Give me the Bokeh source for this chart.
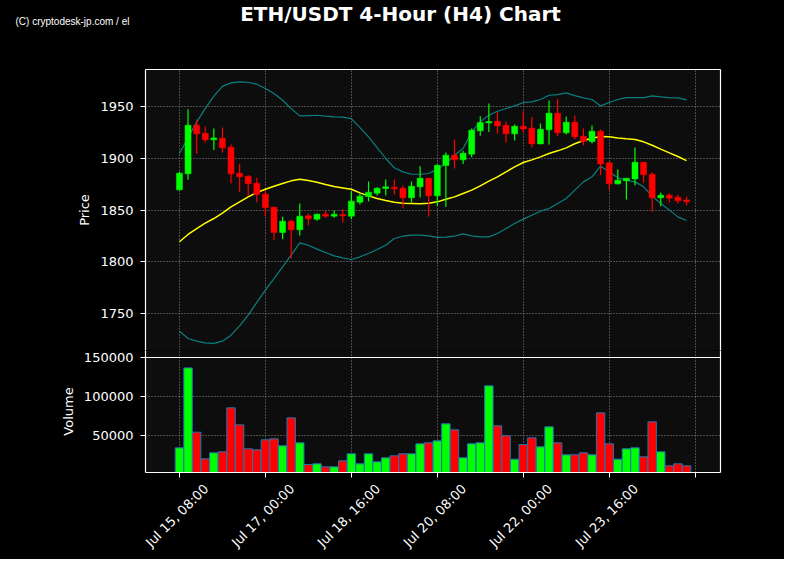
import math
from bokeh.plotting import figure
from bokeh.layouts import column
from bokeh.models import (ColumnDataSource, FixedTicker, LinearAxis, Range1d, Span,
                          NumeralTickFormatter)
from bokeh.core.properties import value
from bokeh.embed import file_html
from bokeh.resources import INLINE

# ---------------- data ----------------
opens = [1869.5, 1885.0, 1932.0, 1924.2, 1917.8, 1919.4, 1910.7, 1885.6, 1882.7, 1875.9,
         1865.3, 1852.8, 1828.3, 1839.2, 1830.9, 1844.4, 1841.2, 1846.0, 1844.1, 1845.7,
         1844.1, 1857.6, 1863.1, 1866.3, 1870.8, 1872.1, 1871.1, 1861.8, 1872.4, 1880.8,
         1863.7, 1893.0, 1903.0, 1898.5, 1904.0, 1926.5, 1934.2, 1935.8, 1932.0, 1923.6,
         1931.0, 1929.1, 1913.9, 1927.5, 1943.6, 1924.6, 1934.9, 1921.3, 1916.2, 1926.2,
         1895.6, 1875.3, 1878.2, 1880.1, 1896.2, 1884.6, 1861.8, 1864.3, 1862.4, 1859.8]
closes = [1885.6, 1932.0, 1923.6, 1917.8, 1919.7, 1910.1, 1885.0, 1882.1, 1875.3, 1865.0,
          1852.1, 1828.3, 1839.2, 1830.9, 1844.1, 1841.5, 1846.0, 1844.1, 1846.0, 1844.4,
          1858.6, 1863.4, 1867.2, 1871.1, 1872.4, 1870.5, 1861.8, 1873.0, 1880.8, 1863.7,
          1893.3, 1903.0, 1898.5, 1904.9, 1927.1, 1934.5, 1935.5, 1931.3, 1923.6, 1931.0,
          1928.4, 1913.9, 1928.1, 1943.6, 1924.6, 1934.9, 1920.7, 1916.2, 1926.2, 1894.6,
          1875.3, 1878.8, 1880.8, 1896.2, 1884.0, 1861.8, 1864.3, 1861.5, 1858.9, 1857.9]
highs = [1886.9, 1947.4, 1937.4, 1930.7, 1928.7, 1929.7, 1913.3, 1894.6, 1883.7, 1881.1,
         1868.9, 1853.4, 1843.4, 1840.8, 1856.3, 1846.6, 1846.6, 1849.2, 1849.5, 1850.8,
         1868.2, 1866.0, 1877.5, 1872.1, 1879.5, 1879.5, 1873.7, 1877.5, 1892.4, 1880.8,
         1894.0, 1905.6, 1918.1, 1907.2, 1928.7, 1940.7, 1952.9, 1944.8, 1935.2, 1932.6,
         1945.5, 1940.0, 1933.6, 1955.8, 1957.1, 1940.3, 1941.3, 1928.7, 1931.6, 1927.8,
         1896.5, 1889.1, 1880.8, 1910.4, 1896.2, 1886.6, 1866.9, 1866.3, 1865.0, 1863.1]
lows = [1868.9, 1879.2, 1904.3, 1915.2, 1908.1, 1905.6, 1875.6, 1867.6, 1863.7, 1857.6,
        1843.7, 1820.9, 1821.8, 1803.2, 1825.4, 1835.0, 1839.6, 1842.5, 1842.5, 1838.0,
        1841.2, 1855.3, 1858.2, 1864.0, 1864.0, 1865.0, 1851.5, 1857.3, 1862.0, 1843.7,
        1854.0, 1853.1, 1890.1, 1894.6, 1901.0, 1921.7, 1925.5, 1923.9, 1915.2, 1917.2,
        1924.9, 1910.4, 1913.6, 1913.3, 1921.3, 1923.0, 1918.4, 1912.6, 1914.3, 1883.7,
        1869.5, 1874.7, 1860.2, 1873.7, 1876.6, 1848.3, 1853.7, 1857.3, 1856.3, 1854.4]
volumes = [34615, 137190, 54700, 20510, 28200, 29500, 85900, 64100, 33330, 32050,
           44870, 46150, 37180, 73080, 41020, 13240, 14100, 10250, 10250, 17950,
           26920, 14100, 26920, 16660, 21800, 24360, 26920, 26920, 39740, 41020,
           43590, 65390, 57700, 21800, 39740, 41020, 114110, 62820, 50000, 20080,
           38890, 47440, 35900, 61540, 41020, 25640, 25640, 28200, 25640, 79490,
           39740, 20080, 33330, 34610, 23070, 67950, 29490, 11530, 14100, 11530]
sma = [1819.3, 1826.4, 1832.1, 1837.3, 1841.8, 1847.0, 1853.1, 1857.9, 1862.7, 1866.9,
       1870.1, 1873.0, 1875.6, 1878.2, 1879.8, 1878.5, 1876.9, 1874.7, 1872.7, 1871.4,
       1870.1, 1866.6, 1863.7, 1861.1, 1859.2, 1857.6, 1856.6, 1856.3, 1856.0, 1856.6,
       1857.9, 1860.5, 1862.7, 1866.0, 1869.2, 1873.4, 1877.9, 1882.1, 1886.9, 1891.7,
       1895.9, 1898.5, 1901.4, 1904.6, 1907.2, 1910.1, 1914.0, 1917.2, 1919.4, 1921.0,
       1920.7, 1919.7, 1918.8, 1918.1, 1915.9, 1912.6, 1908.8, 1905.2, 1901.7, 1897.8]
upper = [1904.6, 1920.0, 1935.0, 1948.0, 1960.0, 1969.5, 1972.9, 1973.8, 1973.5, 1971.6,
         1967.4, 1962.6, 1956.1, 1948.0, 1941.0, 1941.3, 1941.6, 1940.7, 1940.0, 1939.7,
         1938.4, 1929.7, 1920.7, 1910.4, 1899.8, 1890.8, 1886.9, 1884.6, 1884.6, 1885.3,
         1889.5, 1894.9, 1903.0, 1909.4, 1925.5, 1935.2, 1941.6, 1945.5, 1948.1, 1950.6,
         1953.9, 1954.5, 1956.8, 1960.9, 1961.6, 1963.2, 1960.6, 1958.4, 1956.8, 1950.6,
         1953.9, 1956.8, 1958.7, 1958.7, 1958.7, 1960.3, 1959.3, 1958.7, 1958.4, 1956.4]
lower = [1733.0, 1725.9, 1723.3, 1721.7, 1721.1, 1723.3, 1729.1, 1738.1, 1748.4, 1760.7,
         1772.6, 1783.8, 1795.1, 1806.5, 1818.3, 1816.0, 1812.2, 1809.0, 1805.7, 1803.8,
         1802.2, 1804.8, 1808.0, 1811.9, 1816.0, 1822.5, 1824.7, 1825.7, 1825.7, 1825.1,
         1823.5, 1823.8, 1824.7, 1827.0, 1825.1, 1824.1, 1824.1, 1827.3, 1832.1, 1837.0,
         1841.2, 1845.0, 1848.9, 1851.5, 1856.3, 1861.1, 1869.2, 1877.2, 1882.1, 1892.4,
         1886.9, 1881.1, 1878.8, 1877.2, 1872.4, 1863.4, 1856.3, 1849.9, 1843.4, 1839.9]
tick_index = [0, 10, 20, 30, 40, 50, 60]
tick_labels = ["Jul 15, 08:00", "Jul 17, 00:00", "Jul 18, 16:00", "Jul 20, 08:00",
               "Jul 22, 00:00", "Jul 23, 16:00", ""]
price_ticks = [1750, 1800, 1850, 1900, 1950]
volume_ticks = [50000, 100000, 150000]

TITLE = "ETH/USDT 4-Hour (H4) Chart"
WATERMARK = "(C) cryptodesk-jp.com / el"

# ---------------- derived ----------------
n = len(opens)
xs = list(range(n))
UP, DOWN = "#00ff00", "#ff0000"
colors = [UP if c >= o else DOWN for o, c in zip(opens, closes)]
src = ColumnDataSource(dict(
    x=xs, open=opens, close=closes, high=highs, low=lows,
    top=[max(o, c) for o, c in zip(opens, closes)],
    bottom=[min(o, c) for o, c in zip(opens, closes)],
    color=colors, volume=volumes, sma=sma, upper=upper, lower=lower))

FONT = "DejaVu Sans"
GRID_COLOR = "#8a8a8a"
BG = "#0d0d0d"
W = 784
HEADER_H = 40
SPLIT = 350            # canvas boundary between price and volume figures
VOL_TOP = 150500       # volume value at the panel divider
x_range = Range1d(-3.95, 62.95)


def style_axis(ax):
    ax.axis_line_color = "white"
    ax.axis_line_width = 1.2
    ax.major_tick_line_color = "white"
    ax.major_tick_out = 5
    ax.major_tick_in = 0
    ax.minor_tick_line_color = None
    ax.major_label_standoff = 7
    ax.major_label_text_color = "white"
    ax.major_label_text_font = FONT
    ax.major_label_text_font_size = "13px"
    ax.axis_label_standoff = 5
    ax.axis_label_text_color = "white"
    ax.axis_label_text_font = FONT
    ax.axis_label_text_font_style = "normal"
    ax.axis_label_text_font_size = "13px"


def border_axis():
    ax = LinearAxis(ticker=FixedTicker(ticks=[]))
    style_axis(ax)
    ax.major_label_standoff = 0
    ax.major_tick_out = 0
    return ax


def style_grid(g):
    g.grid_line_color = GRID_COLOR
    g.grid_line_dash = "1 2"
    g.grid_line_width = 1


# ---------------- header (title + watermark) ----------------
h = figure(width=W, height=HEADER_H, x_range=Range1d(0, W), y_range=Range1d(HEADER_H, 0),
           output_backend="svg", toolbar_location=None,
           x_axis_location=None, y_axis_location=None,
           min_border=0, min_border_left=0, min_border_right=0,
           min_border_top=0, min_border_bottom=0,
           background_fill_color="black", border_fill_color="black",
           outline_line_color=None)
h.grid.visible = False
h.text(x=[400], y=[13.6], text=[TITLE], text_align="center", text_baseline="alphabetic",
       text_color="white", text_font=value(FONT), text_font_style="bold",
       text_font_size="20px")
h.text(x=[15], y=[21], text=[WATERMARK], text_align="left", text_baseline="alphabetic",
       text_color="white", text_font=value("Liberation Sans"), text_font_size="10px")

# ---------------- price panel ----------------
p = figure(width=W, height=SPLIT - HEADER_H, x_range=x_range,
           y_range=Range1d(1714.26, 1985.8),
           output_backend="svg", toolbar_location=None, x_axis_location=None,
           min_border_left=145, min_border_right=64, min_border_top=69 - HEADER_H,
           min_border_bottom=0,
           background_fill_color=BG, border_fill_color="black", outline_line_color=None)
p.yaxis.ticker = FixedTicker(ticks=price_ticks)
p.yaxis.axis_label = "Price"
style_axis(p.yaxis[0])
style_grid(p.ygrid[0])
for g in p.xgrid:
    g.ticker = FixedTicker(ticks=tick_index)
    style_grid(g)
p.add_layout(border_axis(), "above")
p.add_layout(border_axis(), "right")

p.line("x", "upper", source=src, color="#0a8080", line_width=1.2)
p.line("x", "lower", source=src, color="#0a8080", line_width=1.2)
p.line("x", "sma", source=src, color="#ffff00", line_width=1.5)
p.segment(x0="x", y0="low", x1="x", y1="high", source=src, color="color", line_width=1.2)
p.vbar(x="x", width=0.7, top="top", bottom="bottom", source=src,
       fill_color="color", line_color="color", line_width=0.5)

# ---------------- volume panel ----------------
v = figure(width=W, height=559 - SPLIT, x_range=x_range, y_range=Range1d(3000, 159478),
           output_backend="svg", toolbar_location=None,
           min_border_left=145, min_border_right=64, min_border_top=0, min_border_bottom=87,
           background_fill_color=BG, border_fill_color="black", outline_line_color=None)
v.vbar(x="x", width=0.98, top="volume", bottom=0, source=src,
       fill_color="color", line_color="#1f77b4", line_width=1)
v.yaxis.ticker = FixedTicker(ticks=volume_ticks)
v.yaxis.formatter = NumeralTickFormatter(format="0")
v.yaxis.axis_label = "Volume"
style_axis(v.yaxis[0])
style_grid(v.ygrid[0])
v.add_layout(border_axis(), "right")
v.add_layout(Span(location=VOL_TOP, dimension="width", line_color="white", line_width=1.2))

# tick marks only
tick_axis = v.xaxis[0]
tick_axis.ticker = FixedTicker(ticks=tick_index)
tick_axis.major_label_overrides = {t: "" for t in tick_index}
style_axis(tick_axis)
tick_axis.major_label_standoff = 0
for g in v.xgrid:
    g.ticker = FixedTicker(ticks=tick_index)
    style_grid(g)

# rotated date labels: right end placed so the rotated label is centred under its tick
LABEL_SHIFT = 3.1
label_pos = [t + LABEL_SHIFT for t, lab in zip(tick_index, tick_labels) if lab]
label_txt = [lab for lab in tick_labels if lab]
label_axis = LinearAxis(ticker=FixedTicker(ticks=label_pos),
                        major_label_overrides=dict(zip(label_pos, label_txt)))
style_axis(label_axis)
label_axis.axis_line_color = None
label_axis.major_tick_line_color = None
label_axis.major_tick_out = 0
label_axis.major_label_standoff = 9
label_axis.major_label_orientation = math.pi / 4
v.add_layout(label_axis, "below")

page = column(h, column(p, v, spacing=0), spacing=0, background="black")
open("out.html", "w").write(file_html(page, INLINE))
